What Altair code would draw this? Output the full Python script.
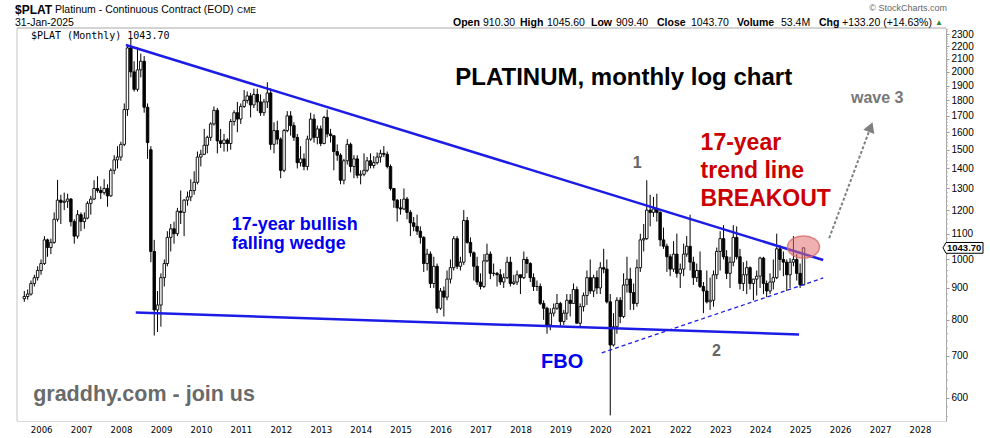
import altair as alt
import pandas as pd

# ---------------- data (monthly candles, Jul 2005 .. Jan 2025) ----------------
opens = [
    865, 872, 880, 915, 935, 960,
    985, 1075, 1045, 1065, 1160, 1245, 1235, 1240, 1250, 1150, 1090, 1180,
    1150, 1165, 1230, 1250, 1300, 1290, 1280, 1300, 1265, 1390, 1445, 1460,
    1530, 1740, 2185, 2000, 1875, 2015, 2080, 1755, 1500, 1030, 830, 845,
    935, 985, 1085, 1120, 1100, 1195, 1190, 1245, 1260, 1290, 1330, 1460,
    1475, 1525, 1570, 1650, 1735, 1550, 1535, 1555, 1535, 1665, 1720, 1680,
    1760, 1800, 1830, 1770, 1840, 1790, 1720, 1790, 1850, 1530, 1610, 1560,
    1390, 1610, 1700, 1640, 1570, 1430, 1450, 1410, 1560, 1680, 1570, 1620,
    1535, 1690, 1590, 1580, 1490, 1470, 1340, 1440, 1530, 1410, 1450, 1365,
    1370, 1390, 1440, 1415, 1430, 1460, 1480, 1475, 1410, 1300, 1245, 1210,
    1205, 1250, 1190, 1145, 1130, 1110, 1085, 985, 1020, 915, 975, 835,
    890, 870, 930, 970, 1080, 975, 990, 1155, 1065, 1025, 975, 920,
    905, 995, 1020, 950, 950, 945, 920, 935, 990, 915, 920, 945,
    935, 1000, 985, 935, 905, 905, 850, 835, 785, 820, 835, 850,
    795, 820, 860, 850, 895, 790, 840, 875, 935, 890, 935, 900,
    970, 965, 855, 729, 780, 860, 810, 910, 930, 885, 850, 970,
    1075, 1080, 1200, 1190, 1205, 1190, 1075, 1050, 1010, 965, 1020, 950,
    965, 1020, 1050, 990, 935, 960, 905, 890, 855, 860, 945, 1030,
    1080, 1010, 950, 990, 1085, 1010, 915, 945, 970, 915, 930, 940,
    1005, 915, 890, 920, 935, 1040, 1000, 990, 945, 990, 1000, 950,
    910.3,
]
highs = [
    890, 895, 925, 945, 975, 1000,
    1090, 1080, 1080, 1190, 1342, 1270, 1280, 1275, 1255, 1160, 1200, 1190,
    1190, 1240, 1265, 1340, 1360, 1310, 1345, 1320, 1400, 1470, 1520, 1545,
    1780, 2200, 2260, 2080, 2190, 2140, 2120, 1780, 1520, 1075, 890, 950,
    1000, 1110, 1140, 1150, 1210, 1290, 1250, 1285, 1345, 1385, 1490, 1500,
    1620, 1580, 1660, 1760, 1750, 1620, 1590, 1565, 1680, 1735, 1790, 1780,
    1870, 1860, 1850, 1880, 1880, 1840, 1810, 1925, 1880, 1660, 1670, 1570,
    1620, 1730, 1730, 1660, 1590, 1520, 1480, 1580, 1720, 1710, 1640, 1640,
    1700, 1740, 1620, 1580, 1530, 1480, 1450, 1560, 1540, 1470, 1470, 1390,
    1480, 1460, 1480, 1465, 1485, 1500, 1520, 1490, 1420, 1300, 1250, 1250,
    1300, 1260, 1200, 1170, 1180, 1130, 1090, 1040, 1030, 1010, 985, 900,
    905, 960, 1000, 1090, 1090, 1010, 1200, 1170, 1085, 1030, 1010, 950,
    1020, 1060, 1030, 985, 955, 965, 950, 1010, 1010, 945, 960, 945,
    1030, 1010, 990, 950, 925, 915, 860, 840, 835, 850, 880, 855,
    830, 880, 880, 915, 905, 850, 885, 960, 1000, 945, 960, 990,
    1040, 1000, 880, 820, 870, 870, 950, 1010, 970, 915, 1000, 1100,
    1140, 1340, 1270, 1260, 1275, 1195, 1125, 1060, 1020, 1070, 1100, 985,
    1060, 1090, 1180, 1010, 985, 1030, 920, 960, 935, 960, 1045, 1110,
    1135, 1035, 1010, 1135, 1130, 1040, 990, 995, 975, 930, 960, 1010,
    1010, 925, 950, 1000, 1100, 1055, 1030, 1000, 1005, 1090, 1020, 985,
    1045.6,
]
lows = [
    855, 862, 875, 905, 925, 945,
    980, 1010, 1020, 1060, 1150, 1140, 1200, 1210, 1130, 1060, 1080, 1110,
    1120, 1160, 1180, 1245, 1280, 1250, 1270, 1215, 1260, 1370, 1400, 1440,
    1520, 1700, 1960, 1860, 1860, 1960, 1720, 1450, 990, 755, 765, 780,
    905, 975, 1030, 1060, 1090, 1140, 1090, 1220, 1240, 1270, 1320, 1410,
    1470, 1480, 1550, 1640, 1480, 1510, 1490, 1490, 1500, 1640, 1600, 1650,
    1750, 1780, 1690, 1750, 1730, 1700, 1700, 1750, 1500, 1480, 1530, 1350,
    1380, 1600, 1580, 1550, 1400, 1410, 1390, 1390, 1550, 1540, 1530, 1520,
    1530, 1570, 1540, 1390, 1440, 1320, 1320, 1420, 1380, 1350, 1350, 1320,
    1360, 1380, 1400, 1400, 1420, 1430, 1460, 1400, 1290, 1210, 1150, 1180,
    1200, 1160, 1090, 1110, 1095, 1060, 955, 960, 900, 900, 820, 830,
    810, 860, 915, 960, 965, 960, 980, 1060, 1010, 925, 910, 895,
    900, 990, 930, 940, 905, 910, 900, 930, 905, 910, 910, 880,
    930, 950, 920, 890, 890, 845, 800, 760, 770, 810, 830, 780,
    785, 800, 810, 850, 790, 780, 825, 845, 880, 870, 880, 880,
    950, 850, 562, 725, 760, 790, 805, 885, 830, 830, 840, 955,
    1030, 1075, 1130, 1170, 1150, 1050, 1040, 955, 940, 955, 935, 900,
    940, 1010, 960, 910, 920, 900, 820, 850, 830, 840, 930, 960,
    1000, 930, 900, 975, 1000, 895, 890, 880, 895, 860, 875, 900,
    880, 870, 880, 895, 930, 960, 940, 890, 900, 975, 925, 900,
    909.4,
]
closes = [
    872, 880, 915, 935, 960, 985,
    1075, 1045, 1065, 1160, 1245, 1235, 1240, 1250, 1150, 1090, 1180, 1150,
    1165, 1230, 1250, 1300, 1290, 1280, 1300, 1265, 1390, 1445, 1460, 1530,
    1740, 2185, 2000, 1875, 2015, 2080, 1755, 1540, 1030, 830, 845, 935,
    985, 1085, 1120, 1100, 1195, 1190, 1245, 1260, 1290, 1330, 1460, 1475,
    1525, 1570, 1650, 1735, 1550, 1535, 1555, 1535, 1665, 1720, 1680, 1760,
    1800, 1830, 1770, 1840, 1790, 1720, 1790, 1850, 1530, 1610, 1560, 1390,
    1610, 1700, 1640, 1570, 1430, 1450, 1410, 1560, 1680, 1570, 1620, 1535,
    1690, 1590, 1580, 1490, 1470, 1340, 1440, 1530, 1410, 1450, 1365, 1370,
    1390, 1440, 1415, 1430, 1460, 1480, 1475, 1410, 1300, 1245, 1210, 1205,
    1250, 1190, 1145, 1130, 1110, 1085, 985, 1020, 915, 975, 835, 890,
    870, 930, 970, 1080, 975, 990, 1155, 1065, 1025, 975, 920, 905,
    995, 1020, 950, 950, 945, 920, 935, 990, 915, 920, 945, 935,
    1000, 985, 935, 905, 905, 850, 835, 785, 820, 835, 850, 795,
    820, 860, 850, 895, 790, 840, 875, 935, 890, 935, 900, 970,
    965, 855, 729, 780, 860, 810, 910, 930, 885, 850, 970, 1075,
    1080, 1200, 1190, 1205, 1190, 1075, 1050, 1010, 965, 1020, 950, 965,
    1020, 1050, 990, 935, 960, 905, 890, 855, 860, 945, 1030, 1080,
    1010, 950, 990, 1085, 1010, 915, 945, 970, 915, 930, 940, 1005,
    915, 890, 920, 935, 1040, 1000, 990, 945, 990, 1000, 950, 910.5,
    1043.7,
]
months = pd.date_range("2005-07-01", periods=len(closes), freq="MS") + pd.offsets.MonthEnd(0)

candles = pd.DataFrame({"date": months, "open": opens, "high": highs,
                        "low": lows, "close": closes})

# trend lines (date, price)
upper_dates = ["2008-02-15", "2025-07-30"]
upper_vals = [2209, 998]
lower_dates = ["2008-05-15", "2024-12-21"]
lower_vals = [822, 758]
rising_dates = ["2020-01-13", "2025-07-30"]
rising_vals = [708, 934]
arrow_dates = ["2025-09-23", "2026-10-07"]
arrow_vals = [1082, 1631]

y_ticks = [600, 700, 800, 900, 1000, 1100, 1200, 1300, 1400, 1500, 1600,
           1700, 1800, 1900, 2000, 2100, 2200, 2300]
minor_ticks = [v for v in range(560, 2341, 20) if v % 100]
years = list(range(2006, 2029))

W, H = 929, 393
SANS = "Liberation Sans, Arial, sans-serif"
NARROW = "Liberation Sans Narrow, Arial Narrow, DejaVu Sans Condensed, sans-serif"
MONO = "DejaVu Sans Mono, monospace"
BLUE = "#1c1ce6"


def X(field="date"):
    return alt.X(
        f"{field}:T", title=None,
        scale=alt.Scale(domain=[alt.DateTime(year=2005, month=7, date=10),
                                alt.DateTime(year=2028, month=7, date=11)]),
        axis=alt.Axis(values=[alt.DateTime(year=y, month=1, date=1) for y in years],
                      format="%Y", labelFont=NARROW, labelFontSize=9.5,
                      labelColor="black", ticks=False, labelPadding=3,
                      domainColor="#b0b0b0", domainDash=[1, 1], grid=False,
                      labelFlush=False, labelOverlap=False))


def Y(field):
    return alt.Y(
        f"{field}:Q", title=None,
        scale=alt.Scale(type="log", domain=[550.5, 2352], nice=False),
        axis=alt.Axis(orient="right", values=y_ticks, format="d", labelFont=SANS,
                      labelFontSize=10, labelColor="black", labelAlign="left",
                      labelBaseline="middle", tickSize=3, tickColor="#999",
                      labelPadding=2, domainColor="#a8a8a8", grid=False,
                      labelFlush=False, labelOverlap=False))


base = alt.Chart(candles)
wicks = base.mark_rule(color="black", strokeWidth=1).encode(
    x=X(), y=Y("low"), y2="high:Q")
bodies = base.mark_bar(size=2.5, stroke="black", strokeWidth=0.9).encode(
    x=X(), y=Y("open"), y2="close:Q",
    fill=alt.condition("datum.close >= datum.open", alt.value("white"),
                       alt.value("black")))


def line_layer(dates, vals, **kw):
    d = pd.DataFrame({"d": pd.to_datetime(dates), "v": vals})
    return alt.Chart(d).mark_line(**kw).encode(x=X("d"), y=Y("v"))


upper = line_layer(upper_dates, upper_vals, color=BLUE, strokeWidth=2.5)
lower = line_layer(lower_dates, lower_vals, color=BLUE, strokeWidth=2.5)
rising = line_layer(rising_dates, rising_vals, color=BLUE, strokeWidth=1.3,
                    strokeDash=[4, 3])
arrow_line = line_layer(arrow_dates, arrow_vals, color="#808080", strokeWidth=2,
                        strokeDash=[3, 2])
arrow_head = alt.Chart(pd.DataFrame({"d": pd.to_datetime(["2026-10-07"]),
                                     "v": [1631]})).mark_point(
    shape="triangle-up", size=140, filled=True, color="#808080", opacity=1,
    angle=21).encode(x=X("d"), y=Y("v"))

ELLIPSE = ("M 1 0 C 1 0.381 0.552 0.69 0 0.69 C -0.552 0.69 -1 0.381 -1 0 "
           "C -1 -0.381 -0.552 -0.69 0 -0.69 C 0.552 -0.69 1 -0.381 1 0 Z")
circle = alt.Chart(pd.DataFrame({"d": pd.to_datetime(["2025-01-31"]),
                                 "v": [1047]})).mark_point(
    shape=ELLIPSE, size=1024, filled=True, fill="#e07070", fillOpacity=0.55,
    stroke="#dd6a6a", strokeWidth=1.5, strokeOpacity=0.8, opacity=1).encode(
    x=X("d"), y=Y("v"))


def ann(dates, vals, texts, size, color, align="left", font=SANS):
    d = pd.DataFrame({"d": pd.to_datetime(dates), "v": vals, "t": texts})
    return alt.Chart(d).mark_text(
        fontSize=size, fontWeight="bold", color=color, align=align,
        baseline="alphabetic", font=font).encode(x=X("d"), y=Y("v"), text="t:N")


title_t = ann(["2016-05-14"], [1905], ["PLATINUM, monthly log chart"], 24, "black")
wedge_t = ann(["2010-10-10", "2010-10-10"], [1115, 1040],
              ["17-year bullish", "falling wedge"], 18, "#0000ee")
fbo_t = ann(["2019-01-16"], [670], ["FBO"], 20, "#0000ee", align="center")
wave_nums = ann(["2020-12-03", "2022-11-27"], [1402, 700], ["1", "2"], 16,
                "#666666", align="center")
red_t = ann(["2022-07-05"] * 3, [1498, 1351, 1218],
            ["17-year", "trend line", "BREAKOUT"], 23, "#cc0000")
wave3_t = ann(["2026-04-10"], [1783], ["wave 3"], 16, "#777777")
site_t = ann(["2005-10-20"], [592], ["graddhy.com - join us"], 21.5, "#6a6a6a")

# minor ticks on the price axis
minor = alt.Chart(pd.DataFrame({"v": minor_ticks})).mark_rule(
    color="#b0b0b0", strokeWidth=1).encode(
    x=alt.value(W), x2=alt.value(W + 2), y=Y("v"))

# last value box on the price axis
last = pd.DataFrame({"v": [1043.7]})
BOX = "M -1 0 L -0.85 -0.27 L 1 -0.27 L 1 0.27 L -0.85 0.27 Z"
last_box = alt.Chart(last).mark_point(
    shape=BOX, size=1600, filled=True, fill="white", stroke="black",
    strokeWidth=1, opacity=1).encode(x=alt.value(946), y=Y("v"))
last_txt = alt.Chart(last).mark_text(
    text="1043.70", fontSize=9.5, fontWeight="bold", font=SANS, align="left",
    baseline="middle", dy=0.5).encode(x=alt.value(930), y=Y("v"))

one = pd.DataFrame({"k": [0]})


def txt(s, x, y, size, bold=False, color="black", align="left", font=SANS):
    return alt.Chart(one).mark_text(
        text=s, fontSize=size, fontWeight="bold" if bold else "normal",
        color=color, align=align, baseline="alphabetic", font=font).encode(
        x=alt.value(x - 17), y=alt.value(y - 28))


header = [
    txt("$PLAT", 15, 13.5, 12, bold=True),
    txt("Platinum - Continuous Contract (EOD)", 55, 12.5, 10.5),
    txt("CME", 237, 12.5, 8.5),
    txt("31-Jan-2025", 15, 25.5, 10.5),
    txt("© StockCharts.com", 947, 11, 9, color="#666666", align="right"),
    txt("Open", 453, 25.5, 10.5, bold=True),
    txt("910.30", 483, 25.5, 10.5),
    txt("High", 520, 25.5, 10.5, bold=True),
    txt("1045.60", 547, 25.5, 10.5),
    txt("Low", 591, 25.5, 10.5, bold=True),
    txt("909.40", 616, 25.5, 10.5),
    txt("Close", 657, 25.5, 10.5, bold=True),
    txt("1043.70", 691, 25.5, 10.5),
    txt("Volume", 737, 25.5, 10.5, bold=True),
    txt("53.4M", 781, 25.5, 10.5),
    txt("Chg", 819, 25.5, 10.5, bold=True),
    txt("+133.20 (+14.63%)", 842, 25.5, 10.5),
    txt("▲", 935, 25, 8, color="#2e8b2e"),
    txt("$PLAT (Monthly) 1043.70", 31, 38.5, 10, font=MONO),
]

frame_left = alt.Chart(one).mark_rule(color="#c4c4c4", strokeWidth=1).encode(
    x=alt.value(0), y=alt.value(0), y2=alt.value(H))
frame_top = alt.Chart(one).mark_rule(color="#a8a8a8", strokeWidth=1).encode(
    x=alt.value(0), x2=alt.value(W), y=alt.value(0))

chart = alt.layer(
    wicks, bodies, frame_left, frame_top, minor,
    lower, upper, rising, circle, arrow_line, arrow_head,
    title_t, wedge_t, fbo_t, wave_nums, red_t, wave3_t, site_t,
    last_box, last_txt, *header,
).properties(
    width=W, height=H,
    padding={"left": 17, "top": 28, "right": 44, "bottom": 17},
    autosize=alt.AutoSizeParams(type="none"),
    background="white",
).configure_view(stroke=None)

chart.save("out.html", embed_options={"renderer": "svg", "actions": False})
